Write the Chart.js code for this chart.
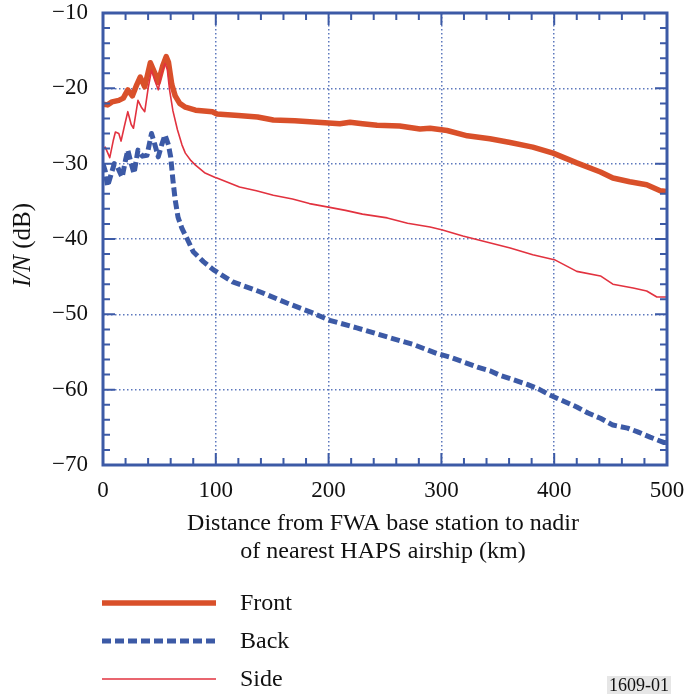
<!DOCTYPE html>
<html>
<head>
<meta charset="utf-8">
<script src="https://cdn.jsdelivr.net/npm/chart.js@4.4.0/dist/chart.umd.min.js"></script>
<style>
html, body { margin: 0; padding: 0; background: #fff; }
</style>
</head>
<body>
<canvas id="myChart" width="686" height="695"></canvas>
<script>
// distance (km) and I/N (dB)
var frontKm = [0, 4, 8, 14, 18, 22, 26, 30, 33, 37, 42, 46, 49, 53, 56, 58, 61, 64, 68, 73, 82, 97, 101, 120, 137, 151, 170, 190, 210, 219, 230, 243, 263, 281, 290, 305, 323, 343, 361, 381, 399, 420, 441, 452, 467, 482, 494, 500];
var frontDb = [-22.1, -22.2, -21.8, -21.6, -21.3, -20.2, -21, -19.5, -18.5, -19.8, -16.6, -18, -19.2, -17, -15.8, -16.5, -19.5, -21, -22, -22.5, -22.9, -23.1, -23.4, -23.6, -23.8, -24.2, -24.3, -24.5, -24.7, -24.5, -24.7, -24.9, -25, -25.4, -25.3, -25.6, -26.3, -26.7, -27.2, -27.8, -28.6, -29.9, -31.1, -31.9, -32.4, -32.8, -33.6, -33.7];

var backKm = [0, 2, 4, 7, 10, 13, 17, 20, 22, 25, 27.5, 31, 35, 39, 43, 46, 49, 52, 55, 58, 60, 62, 64, 66.5, 70, 75, 80, 89, 98, 115, 139, 163, 184, 201, 225, 252, 275, 296, 308, 319, 332, 343, 352, 364, 376, 386, 396, 408, 420, 430, 441, 452, 465, 474, 485, 497, 500];
var backDb = [-30, -31, -33, -31.5, -30, -30.5, -31.8, -29.5, -28.2, -30, -31.3, -28.2, -29, -28.9, -26, -27.5, -29.1, -27.5, -26.2, -27.5, -29.1, -32.2, -34.8, -37.1, -38.6, -40.1, -41.7, -43, -44.1, -45.7, -47, -48.5, -49.7, -50.8, -51.8, -53, -54, -55.2, -55.7, -56.3, -57, -57.5, -58.1, -58.7, -59.3, -59.9, -60.7, -61.5, -62.3, -63.1, -63.8, -64.7, -65.1, -65.6, -66.3, -67, -67];

var sideKm = [0, 2, 6, 9, 11, 14, 16, 19, 22, 25, 27, 31, 34, 37, 40, 43, 46, 49, 52, 55, 57, 59, 62, 66, 70, 73, 78, 82, 90, 99, 101, 121, 136, 151, 168, 183, 201, 215, 230, 252, 270, 290, 301, 319, 340, 361, 381, 401, 420, 441, 452, 470, 482, 491, 500];
var sideDb = [-28, -27.8, -29.2, -27, -25.8, -26, -27, -25, -23.1, -24.8, -25.3, -21.6, -22.5, -23.1, -20, -17.6, -19, -20.2, -18, -16.7, -17.5, -20.2, -23, -25.5, -27.5, -28.6, -29.6, -30.2, -31.2, -31.8, -31.9, -33.1, -33.6, -34.2, -34.7, -35.3, -35.8, -36.2, -36.7, -37.2, -37.9, -38.4, -38.8, -39.6, -40.4, -41.2, -42.1, -42.8, -44.3, -44.9, -46, -46.5, -46.9, -47.7, -47.7];

var seriesNames = ['Front', 'Back', 'Side'];
var xTicks = [0, 100, 200, 300, 400, 500];
var yTicks = [-70, -60, -50, -40, -30, -20, -10];

var blue = '#3c5aa6';
var orange = '#d9502a';
var red = '#e2323f';
var serif = '"Liberation Serif", "DejaVu Serif", serif';

function toPoints(xs, ys) {
    return xs.map(function(x, i) { return { x: x, y: ys[i] }; });
}

// frame, inward ticks, titles and legend
var decor = {
    id: 'decor',
    afterDraw: function(chart) {
        var c = chart.ctx;
        var a = chart.chartArea;
        var sx = chart.scales.x, sy = chart.scales.y;
        c.save();
        c.strokeStyle = blue;
        c.lineWidth = 2;
        for (var k = 0; k <= 500; k += 20) {
            var px = sx.getPixelForValue(k);
            var len = k % 100 === 0 ? 12 : 7;
            c.beginPath();
            c.moveTo(px, a.bottom); c.lineTo(px, a.bottom - len);
            c.moveTo(px, a.top); c.lineTo(px, a.top + len);
            c.stroke();
        }
        for (var d = -70; d <= -10; d += 2) {
            var py = sy.getPixelForValue(d);
            var ln = d % 10 === 0 ? 12 : 7;
            c.beginPath();
            c.moveTo(a.left, py); c.lineTo(a.left + ln, py);
            c.moveTo(a.right, py); c.lineTo(a.right - ln, py);
            c.stroke();
        }
        c.lineWidth = 3;
        c.strokeRect(a.left, a.top, a.right - a.left, a.bottom - a.top);

        // x title, centred under the plot
        var cx = (a.left + a.right) / 2 - 2;
        c.fillStyle = '#111';
        c.font = '24px ' + serif;
        c.textAlign = 'center';
        c.textBaseline = 'middle';
        c.fillText('Distance from FWA base station to nadir', cx, 524);
        c.fillText('of nearest HAPS airship (km)', cx, 552);

        // y title, italic I/N
        c.save();
        c.translate(23, 245);
        c.rotate(-Math.PI / 2);
        c.textAlign = 'left';
        c.font = 'italic 25px ' + serif;
        var w1 = c.measureText('I/N').width;
        c.font = '25px ' + serif;
        var w2 = c.measureText(' (dB)').width;
        var x0 = -(w1 + w2) / 2;
        c.font = 'italic 25px ' + serif;
        c.fillText('I/N', x0, 0);
        c.font = '25px ' + serif;
        c.fillText(' (dB)', x0 + w1, 0);
        c.restore();

        // legend
        var ly = [603, 641, 679];
        chart.data.datasets.forEach(function(ds) {
            var i = seriesNames.indexOf(ds.label);
            c.save();
            c.strokeStyle = ds.borderColor;
            c.lineWidth = ds.borderWidth;
            c.setLineDash(ds.borderDash || []);
            c.beginPath();
            c.moveTo(102, ly[i]); c.lineTo(216, ly[i]);
            c.stroke();
            c.restore();
            c.fillStyle = '#111';
            c.font = '24px ' + serif;
            c.textAlign = 'left';
            c.fillText(ds.label, 240, ly[i] + 1);
        });

        // figure code
        c.fillStyle = '#e6e6e6';
        c.fillRect(607, 676, 64, 18);
        c.fillStyle = '#111';
        c.font = '18px ' + serif;
        c.textAlign = 'center';
        c.fillText('1609-01', 639, 686);
        c.restore();
    }
};

var ctx = document.getElementById('myChart').getContext('2d');
var myChart = new Chart(ctx, {
    type: 'line',
    data: {
        datasets: [{
            label: seriesNames[2],
            data: toPoints(sideKm, sideDb),
            borderColor: red,
            borderWidth: 1.6
        }, {
            label: seriesNames[0],
            data: toPoints(frontKm, frontDb),
            borderColor: orange,
            borderWidth: 5.5
        }, {
            label: seriesNames[1],
            data: toPoints(backKm, backDb),
            borderColor: blue,
            borderWidth: 5,
            borderDash: [9, 4]
        }]
    },
    options: {
        responsive: false,
        animation: false,
        devicePixelRatio: 1,
        layout: { padding: { left: 0, right: 19, top: 13, bottom: 0 } },
        elements: {
            point: { radius: 0 },
            line: { tension: 0, borderJoinStyle: 'round', fill: false }
        },
        plugins: {
            legend: { display: false },
            tooltip: { enabled: false }
        },
        scales: {
            x: {
                type: 'linear',
                min: 0,
                max: 500,
                afterFit: function(s) {
                    s.height = 230;
                    s.paddingLeft = 0;
                    s.paddingRight = 0;
                },
                afterBuildTicks: function(s) { s.ticks = xTicks.map(function(v) { return { value: v }; }); },
                grid: { color: '#5d78bd', lineWidth: 1.5, drawTicks: false },
                border: { display: false, dash: [1.5, 2.5] },
                ticks: {
                    padding: 12,
                    color: '#111',
                    font: { family: serif, size: 23 }
                }
            },
            y: {
                min: -70,
                max: -10,
                afterFit: function(s) {
                    s.width = 103;
                    s.paddingTop = 0;
                    s.paddingBottom = 0;
                },
                afterBuildTicks: function(s) { s.ticks = yTicks.map(function(v) { return { value: v }; }); },
                grid: { color: '#5d78bd', lineWidth: 1.5, drawTicks: false },
                border: { display: false, dash: [1.5, 2.5] },
                ticks: {
                    padding: 15,
                    color: '#111',
                    font: { family: serif, size: 23 },
                    callback: function(v) { return String(v).replace('-', '\u2212'); }
                }
            }
        }
    },
    plugins: [decor]
});
</script>
</body>
</html>
